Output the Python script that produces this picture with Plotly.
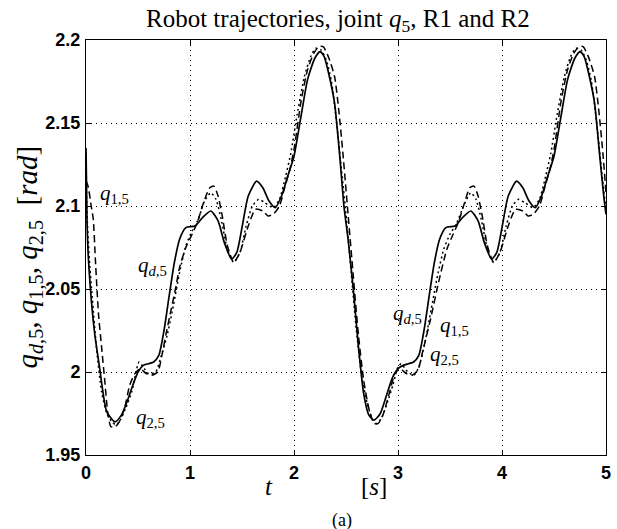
import plotly.graph_objects as go

# Desired trajectory q_{d,5} (solid)
t_d = [0, 0.01, 0.02, 0.04, 0.08, 0.13, 0.2, 0.28, 0.34, 0.4, 0.45, 0.5, 0.55, 0.6, 0.65, 0.7,
       0.75, 0.8, 0.85, 0.9, 0.96, 1.05, 1.12, 1.2, 1.27, 1.33, 1.4, 1.45, 1.5, 1.56, 1.64, 1.7,
       1.76, 1.82, 1.88, 1.94, 2.0, 2.07, 2.13, 2.2, 2.25, 2.29, 2.34, 2.39, 2.44, 2.48, 2.52,
       2.57, 2.62, 2.67, 2.72, 2.77, 2.83, 2.9, 2.95, 3.0, 3.05, 3.1, 3.15, 3.2, 3.25, 3.3, 3.35,
       3.4, 3.46, 3.55, 3.62, 3.7, 3.77, 3.83, 3.9, 3.95, 4.0, 4.06, 4.14, 4.2, 4.26, 4.32, 4.38,
       4.44, 4.5, 4.57, 4.63, 4.7, 4.75, 4.79, 4.84, 4.89, 4.94, 4.98, 5.0]
q_d = [2.135, 2.09, 2.072, 2.052, 2.025, 2.003, 1.976, 1.970, 1.974, 1.983, 1.992, 2.0, 2.004,
       2.005, 2.006, 2.01, 2.025, 2.046, 2.066, 2.08, 2.087, 2.088, 2.093, 2.097, 2.091, 2.078,
       2.068, 2.072, 2.087, 2.106, 2.115, 2.111, 2.103, 2.099, 2.106, 2.118, 2.13, 2.155, 2.176,
       2.189, 2.193, 2.19, 2.178, 2.162, 2.13, 2.1, 2.08, 2.05, 2.015, 1.987, 1.974, 1.971, 1.975,
       1.988, 1.997, 2.002, 2.004, 2.005, 2.006, 2.01, 2.025, 2.046, 2.066, 2.08, 2.087, 2.088,
       2.093, 2.097, 2.091, 2.078, 2.068, 2.072, 2.087, 2.106, 2.115, 2.111, 2.103, 2.099, 2.106,
       2.118, 2.13, 2.155, 2.176, 2.189, 2.193, 2.19, 2.178, 2.162, 2.13, 2.105, 2.095]

# Robot R1 joint trajectory q_{1,5} (dashed)
t_1 = [0, 0.02, 0.05, 0.07, 0.09, 0.12, 0.15, 0.18, 0.21, 0.24, 0.28, 0.32, 0.37, 0.42, 0.47,
       0.52, 0.58, 0.63, 0.69, 0.73, 0.77, 0.82, 0.86, 0.9, 0.96, 1.02, 1.07, 1.13, 1.19, 1.23,
       1.27, 1.31, 1.36, 1.42, 1.48, 1.56, 1.63, 1.7, 1.75, 1.8, 1.86, 1.91, 1.96, 2.0, 2.07,
       2.13, 2.19, 2.24, 2.28, 2.33, 2.39, 2.43, 2.47, 2.52, 2.57, 2.62, 2.67, 2.72, 2.77, 2.81,
       2.86, 2.92, 2.97, 3.02, 3.08, 3.13, 3.19, 3.24, 3.31, 3.39, 3.47, 3.53, 3.58, 3.64, 3.69,
       3.73, 3.77, 3.81, 3.86, 3.92, 3.98, 4.06, 4.13, 4.2, 4.25, 4.3, 4.36, 4.41, 4.46, 4.5,
       4.57, 4.63, 4.69, 4.74, 4.78, 4.83, 4.89, 4.93, 4.97, 5.0]
q_1 = [2.115, 2.112, 2.1, 2.092, 2.068, 2.035, 2.015, 1.995, 1.975, 1.967, 1.967, 1.97, 1.978,
       1.992, 1.999, 2.002, 1.999, 1.998, 2.0, 2.01, 2.023, 2.038, 2.05, 2.063, 2.075, 2.083,
       2.09, 2.102, 2.111, 2.112, 2.106, 2.094, 2.076, 2.066, 2.072, 2.088, 2.098, 2.097, 2.094,
       2.095, 2.1, 2.111, 2.122, 2.134, 2.164, 2.182, 2.192, 2.196, 2.196, 2.19, 2.178, 2.158,
       2.132, 2.095, 2.058, 2.022, 1.995, 1.978, 1.969, 1.969, 1.975, 1.988, 1.999, 2.002, 1.999,
       1.998, 2.001, 2.013, 2.031, 2.054, 2.074, 2.083, 2.09, 2.102, 2.111, 2.112, 2.106, 2.094,
       2.076, 2.066, 2.072, 2.088, 2.098, 2.097, 2.094, 2.095, 2.1, 2.111, 2.122, 2.134, 2.164,
       2.182, 2.192, 2.196, 2.196, 2.19, 2.178, 2.158, 2.132, 2.108]

# Robot R2 joint trajectory q_{2,5} (dotted)
t_2 = [0, 0.01, 0.03, 0.06, 0.1, 0.15, 0.2, 0.25, 0.29, 0.33, 0.38, 0.44, 0.48, 0.51, 0.55, 0.6,
       0.67, 0.72, 0.78, 0.84, 0.9, 0.96, 1.02, 1.08, 1.14, 1.2, 1.25, 1.3, 1.36, 1.42, 1.48,
       1.54, 1.6, 1.66, 1.72, 1.8, 1.86, 1.92, 1.97, 2.03, 2.1, 2.16, 2.21, 2.26, 2.31, 2.36,
       2.41, 2.46, 2.5, 2.55, 2.6, 2.65, 2.7, 2.75, 2.79, 2.84, 2.9, 2.95, 3.0, 3.03, 3.08, 3.15,
       3.2, 3.26, 3.32, 3.38, 3.44, 3.5, 3.56, 3.63, 3.7, 3.75, 3.8, 3.86, 3.92, 3.98, 4.04, 4.1,
       4.16, 4.22, 4.3, 4.36, 4.42, 4.47, 4.53, 4.6, 4.66, 4.71, 4.76, 4.81, 4.86, 4.91, 4.96, 5.0]
q_2 = [2.13, 2.095, 2.07, 2.045, 2.015, 1.988, 1.975, 1.97, 1.968, 1.971, 1.978, 1.988, 2.0,
       2.006, 2.003, 1.999, 2.0, 2.009, 2.022, 2.04, 2.06, 2.076, 2.085, 2.092, 2.103, 2.108,
       2.104, 2.092, 2.074, 2.066, 2.072, 2.088, 2.1, 2.104, 2.102, 2.099, 2.104, 2.118, 2.132,
       2.155, 2.178, 2.19, 2.195, 2.194, 2.188, 2.175, 2.15, 2.12, 2.095, 2.06, 2.025, 1.998,
       1.982, 1.972, 1.969, 1.972, 1.982, 1.992, 2.003, 2.005, 2.001, 1.998, 2.003, 2.018, 2.038,
       2.058, 2.074, 2.083, 2.089, 2.1, 2.108, 2.104, 2.092, 2.074, 2.066, 2.072, 2.088, 2.1,
       2.104, 2.102, 2.099, 2.104, 2.118, 2.132, 2.155, 2.178, 2.19, 2.195, 2.194, 2.188, 2.175,
       2.15, 2.12, 2.098]

x_ticks = [0, 1, 2, 3, 4, 5]
y_ticks = [1.95, 2.0, 2.05, 2.1, 2.15, 2.2]
y_ticktext = ["1.95", "2", "2.05", "2.1", "2.15", "2.2"]

SERIF = "Liberation Serif, Times New Roman, serif"
SANS = "Liberation Sans, Arial, sans-serif"

# figure geometry (pixels)
W, H = 617, 529
M_L, M_R, M_T, M_B = 86, 6, 40, 74

fig = go.Figure()
line_kw = dict(shape="spline", smoothing=0.6)
fig.add_trace(go.Scatter(x=t_d, y=q_d, mode="lines",
                         line=dict(color="black", width=1.7, dash="solid", **line_kw)))
fig.add_trace(go.Scatter(x=t_1, y=q_1, mode="lines",
                         line=dict(color="black", width=1.5, dash="7px,4px", **line_kw)))
fig.add_trace(go.Scatter(x=t_2, y=q_2, mode="lines",
                         line=dict(color="black", width=1.5, dash="2px,3px", **line_kw)))

axis_common = dict(
    showline=True, linecolor="black", linewidth=1, mirror="ticks",
    ticks="inside", ticklen=5, tickcolor="black", tickwidth=1,
    showgrid=True, gridcolor="black", gridwidth=1, griddash="1px,4px",
    zeroline=False,
    tickfont=dict(family=SANS, size=18, color="black", weight="bold"),
)

fig.update_xaxes(range=[0, 5], tickvals=x_ticks, ticklabelstandoff=1, **axis_common)
fig.update_yaxes(range=[1.95, 2.2], tickvals=y_ticks, ticktext=y_ticktext,
                 ticklabelstandoff=1, **axis_common)

plot_w, plot_h = W - M_L - M_R, H - M_T - M_B


def px(xp):
    return (xp - M_L) / plot_w


def py(yp):
    return (H - M_B - yp) / plot_h


def q_label(sub):
    return "<i>q</i><sub>" + sub + "</sub>"


ann = []
lab_font = dict(family=SERIF, size=21, color="black")

# curve labels placed in data coordinates
curve_labels = [
    (0.27, 2.107, q_label("1,5")),
    (0.64, 2.064, q_label("<i>d</i>,5")),
    (0.62, 1.972, q_label("2,5")),
    (3.09, 2.035, q_label("<i>d</i>,5")),
    (3.54, 2.028, q_label("1,5")),
    (3.45, 2.010, q_label("2,5")),
]
for x, y, txt in curve_labels:
    ann.append(dict(x=x, y=y, xref="x", yref="y", text=txt, showarrow=False,
                    font=lab_font, xanchor="center", yanchor="middle"))

ann.append(dict(x=px(340), y=py(21), xref="paper", yref="paper",
                text="Robot trajectories, joint <i>q</i><sub>5</sub>, R1 and R2",
                showarrow=False, font=dict(family=SERIF, size=25, color="black"),
                xanchor="center", yanchor="middle"))
ann.append(dict(x=px(28), y=py(257), xref="paper", yref="paper", textangle=-90,
                text="<i>q</i><sub><i>d</i>,5</sub>, <i>q</i><sub>1,5</sub>, "
                     "<i>q</i><sub>2,5</sub>  [<i>rad</i>]",
                showarrow=False, font=dict(family=SERIF, size=29, color="black"),
                xanchor="center", yanchor="middle"))
ann.append(dict(x=px(271), y=py(486), xref="paper", yref="paper", text="<i>t</i>",
                showarrow=False, font=dict(family=SERIF, size=25, color="black"),
                xanchor="center", yanchor="middle"))
ann.append(dict(x=px(377), y=py(486), xref="paper", yref="paper", text="[<i>s</i>]",
                showarrow=False, font=dict(family=SERIF, size=25, color="black"),
                xanchor="center", yanchor="middle"))
ann.append(dict(x=px(344), y=py(520), xref="paper", yref="paper", text="(a)",
                showarrow=False, font=dict(family=SERIF, size=18, color="black"),
                xanchor="center", yanchor="middle"))

fig.update_layout(
    width=W, height=H,
    margin=dict(l=M_L, r=M_R, t=M_T, b=M_B),
    paper_bgcolor="white", plot_bgcolor="white",
    showlegend=False,
    annotations=ann,
)

fig.write_html("out.html")
